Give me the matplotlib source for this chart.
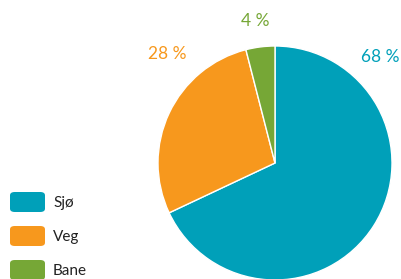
import matplotlib.pyplot as plt
from matplotlib.patches import FancyBboxPatch

plt.rcParams['font.family'] = ['Lato', 'DejaVu Sans']

labels = ['Sjø', 'Veg', 'Bane']
shares = [68, 28, 4]
colors = ['#00a0b9', '#f7981d', '#76a736']

W, H = 401, 279
fig = plt.figure(figsize=(W / 100, H / 100), dpi=100)

# pie axes: centre (275, 163) px, radius 117 px
cx, cy, r = 275, 163, 117
ax = fig.add_axes([(cx - r) / W, (H - cy - r) / H, 2 * r / W, 2 * r / H])
ax.pie(shares, colors=colors, startangle=90, counterclock=False,
       wedgeprops={'edgecolor': 'white', 'linewidth': 1})
ax.set_xlim(-1, 1)
ax.set_ylim(-1, 1)
ax.set_aspect('equal')
ax.axis('off')

# percentage labels placed around the top of the pie
label_pos = [(0.90, 0.91), (-0.92, 0.93), (-0.17, 1.21)]
for s, c, (x, y) in zip(shares, colors, label_pos):
    ax.text(x, y, f'{s} %', color=c, fontsize=12.5,
            ha='center', va='center', clip_on=False)

# legend with rounded swatches
for i, (lab, c) in enumerate(zip(labels, colors)):
    top = 192 + i * 34
    box = FancyBboxPatch((10 / W, 1 - (top + 20) / H), 35 / W, 20 / H,
                         boxstyle='round,pad=0,rounding_size=0.012',
                         transform=fig.transFigure, facecolor=c,
                         edgecolor='none')
    fig.patches.append(box)
    fig.text(53 / W, 1 - (top + 11) / H, lab, fontsize=11, color='#222222',
             va='center', ha='left')

fig.savefig('out.png', dpi=100)
